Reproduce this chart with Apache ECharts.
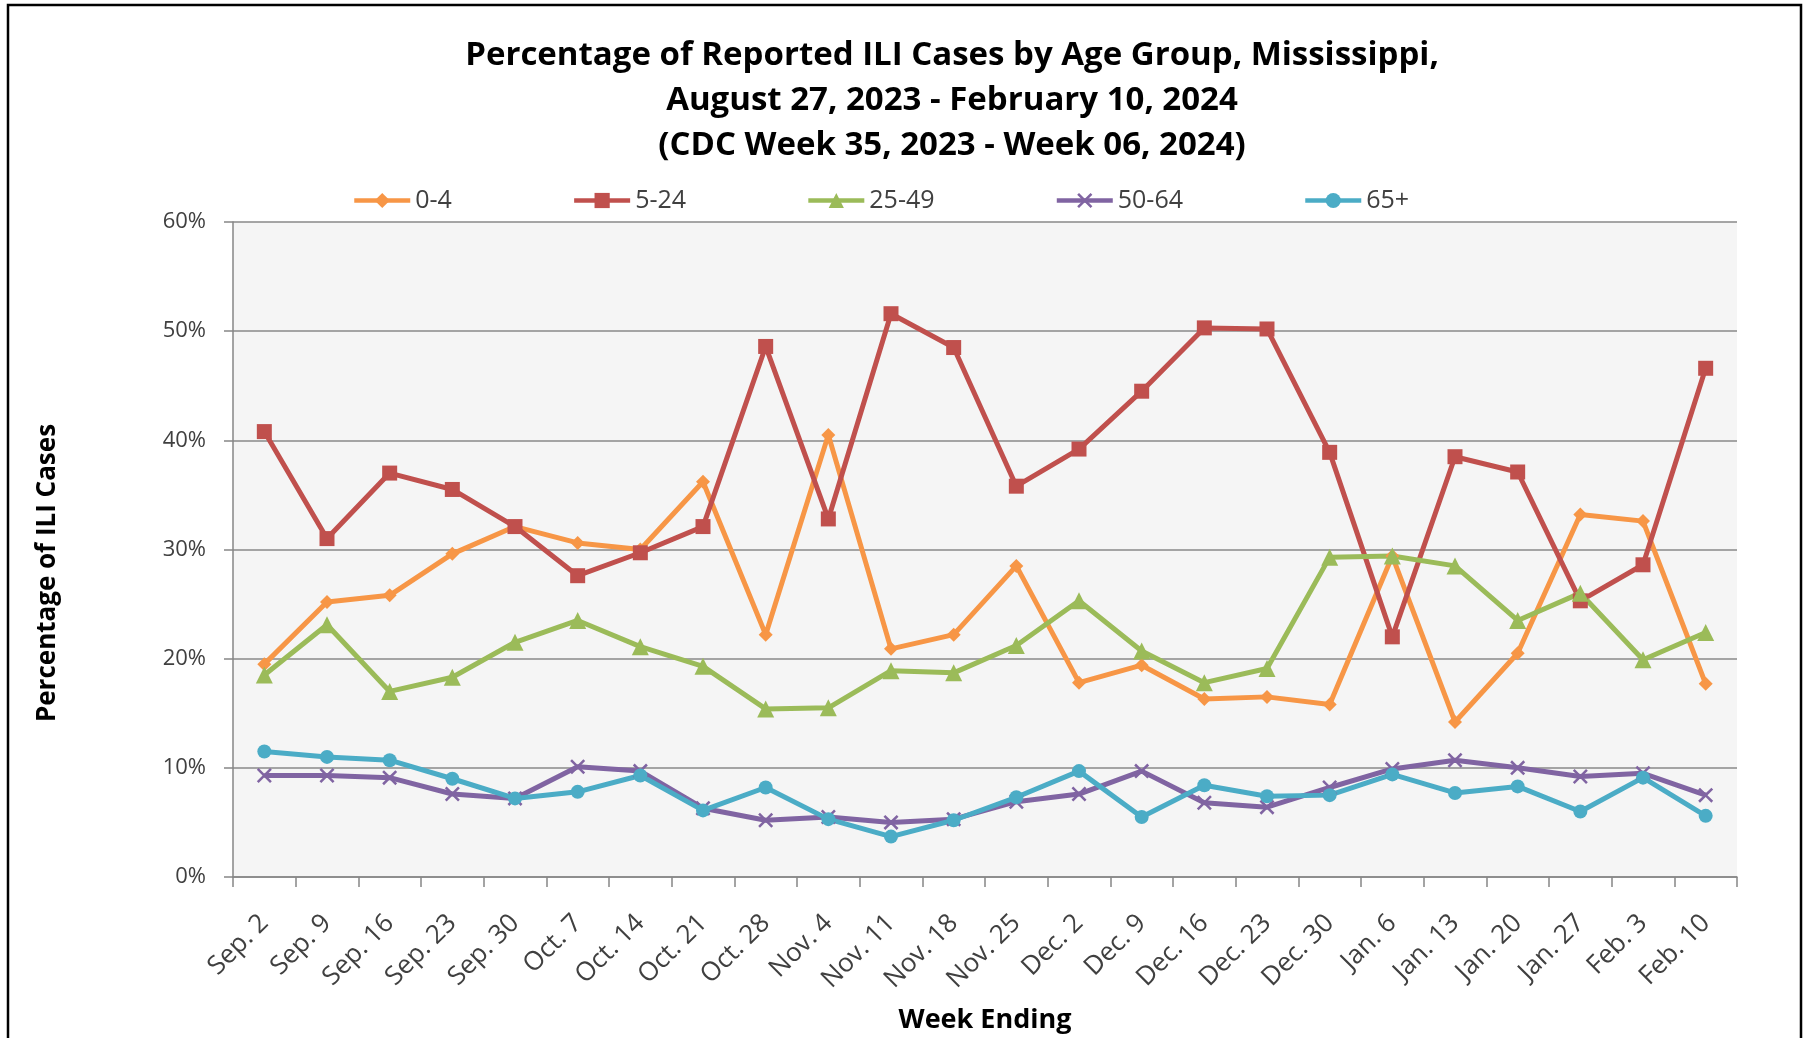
<!DOCTYPE html>
<html>
<head>
<meta charset="utf-8">
<script src="https://cdn.jsdelivr.net/npm/echarts@6/dist/echarts.min.js"></script>
<style>
html,body{margin:0;padding:0;background:#fff;}
#chart{width:1807px;height:1038px;}
</style>
</head>
<body>
<div id="chart"></div>
<script>
var weeks = ['Sep. 2','Sep. 9','Sep. 16','Sep. 23','Sep. 30','Oct. 7','Oct. 14','Oct. 21','Oct. 28','Nov. 4','Nov. 11','Nov. 18','Nov. 25','Dec. 2','Dec. 9','Dec. 16','Dec. 23','Dec. 30','Jan. 6','Jan. 13','Jan. 20','Jan. 27','Feb. 3','Feb. 10'];
var age0to4 = [19.5,25.2,25.8,29.6,32.1,30.6,30.0,36.2,22.2,40.5,20.9,22.2,28.5,17.8,19.4,16.3,16.5,15.8,29.4,14.2,20.5,33.2,32.6,17.7];
var age5to24 = [40.8,31.0,37.0,35.5,32.1,27.6,29.7,32.1,48.6,32.8,51.6,48.5,35.8,39.2,44.5,50.3,50.2,38.9,22.0,38.5,37.1,25.3,28.6,46.6];
var age25to49 = [18.5,23.1,17.0,18.3,21.5,23.5,21.1,19.3,15.4,15.5,18.9,18.7,21.2,25.3,20.7,17.8,19.1,29.3,29.4,28.5,23.5,26.0,19.9,22.4];
var age50to64 = [9.3,9.3,9.1,7.6,7.2,10.1,9.7,6.3,5.2,5.5,5.0,5.3,6.9,7.6,9.7,6.8,6.4,8.2,9.9,10.7,10.0,9.2,9.5,7.5];
var age65plus = [11.5,11.0,10.7,9.0,7.2,7.8,9.3,6.1,8.2,5.3,3.7,5.2,7.3,9.7,5.5,8.4,7.4,7.5,9.4,7.7,8.3,6.0,9.1,5.6];
var seriesNames = ['0-4','5-24','25-49','50-64','65+'];
var yTicks = [0,10,20,30,40,50,60];

var FONT = '"Open Sans", "Noto Sans", sans-serif';
var xSymbol = 'path://M0,1.2 L1.2,0 L5,3.8 L8.8,0 L10,1.2 L6.2,5 L10,8.8 L8.8,10 L5,6.2 L1.2,10 L0,8.8 L3.8,5 Z';

function mk(name, data, color, symbol, size) {
  return {
    name: name, type: 'line', data: data,
    symbol: symbol, symbolSize: size,
    lineStyle: {color: color, width: 5},
    itemStyle: {color: color},
    emphasis: {disabled: true},
    animation: false
  };
}

var chart = echarts.init(document.getElementById('chart'));
chart.setOption({
  backgroundColor: '#ffffff',
  animation: false,
  title: {
    text: 'Percentage of Reported ILI Cases by Age Group, Mississippi,\nAugust 27, 2023 - February 10, 2024\n(CDC Week 35, 2023 - Week 06, 2024)',
    left: 947, top: 28, textAlign: 'center',
    textStyle: {fontFamily: FONT, fontSize: 33, fontWeight: 'bold', color: '#000', lineHeight: 45}
  },
  legend: {
    data: seriesNames,
    left: 352, top: 188, padding: 0,
    itemWidth: 56, itemHeight: 19, itemGap: 120,
    lineStyle: {width: 4.5},
    textStyle: {fontFamily: FONT, fontSize: 25, color: '#404040'}
  },
  grid: {left: 233, right: 70, top: 222, bottom: 161, show: true, backgroundColor: '#f5f5f5', borderWidth: 0},
  xAxis: {
    type: 'category', data: weeks, boundaryGap: true,
    axisLine: {lineStyle: {color: '#868686', width: 1.5}},
    axisTick: {show: true, interval: 0, length: 10, lineStyle: {color: '#868686', width: 1.5}},
    axisLabel: {interval: 0, rotate: 45, fontFamily: FONT, fontSize: 26, color: '#404040', margin: 42}
  },
  yAxis: {
    type: 'value', min: 0, max: 60, interval: 10,
    axisLine: {show: true, lineStyle: {color: '#868686', width: 1.5}},
    axisTick: {show: true, length: 9, lineStyle: {color: '#868686', width: 1.5}},
    axisLabel: {formatter: '{value}%', fontFamily: FONT, fontSize: 22, color: '#404040', margin: 27},
    splitLine: {lineStyle: {color: '#888888', width: 1.5}}
  },
  graphic: [
    {type: 'rect', shape: {x: 8, y: 5, width: 1793, height: 1100}, style: {fill: 'none', stroke: '#000', lineWidth: 2.5}, silent: true},
    {type: 'text', x: 48, y: 573, rotation: Math.PI / 2,
     style: {text: 'Percentage of ILI Cases', font: 'bold 26px ' + FONT, fill: '#000', textAlign: 'center', textVerticalAlign: 'middle'}},
    {type: 'text', x: 985, y: 1020,
     style: {text: 'Week Ending', font: 'bold 27px ' + FONT, fill: '#000', textAlign: 'center', textVerticalAlign: 'middle'}}
  ],
  series: [
    mk('0-4', age0to4, '#F79646', 'diamond', 14),
    mk('5-24', age5to24, '#C0504D', 'rect', 15),
    mk('25-49', age25to49, '#9BBB59', 'triangle', 17),
    mk('50-64', age50to64, '#8064A2', xSymbol, 15),
    mk('65+', age65plus, '#4BACC6', 'circle', 14)
  ]
});
</script>
</body>
</html>
